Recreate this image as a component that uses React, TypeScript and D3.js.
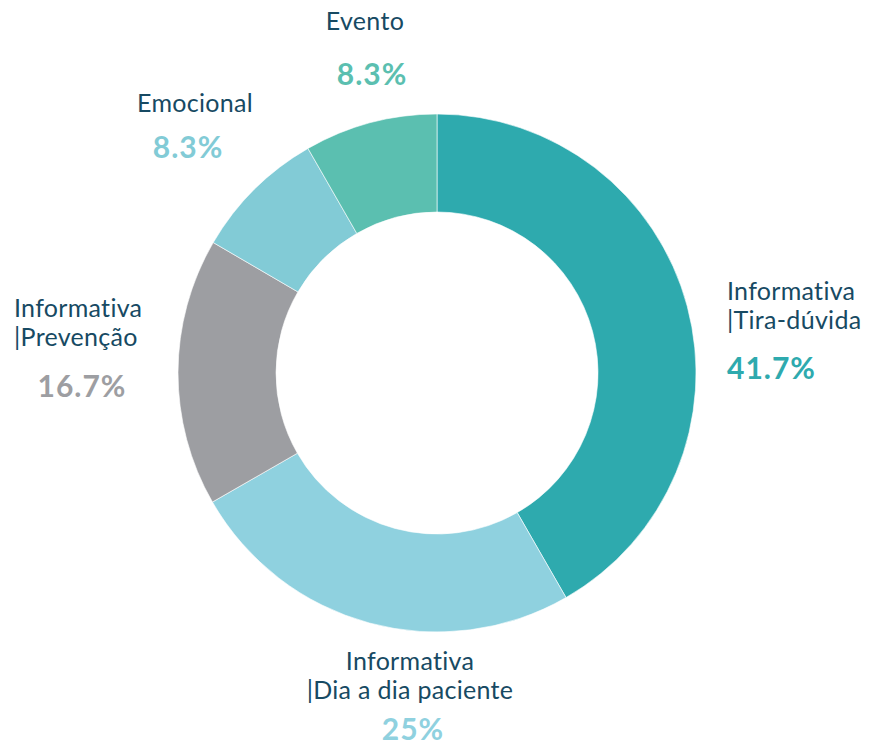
import React from "react";
import * as d3 from "d3";

// Slice data, clockwise from 12 o'clock
const categories = ["Tira-dúvida", "Dia a dia paciente", "Prevenção", "Emocional", "Evento"];
const values = [41.7, 25, 16.7, 8.3, 8.3];
const percentLabels = ["41.7%", "25%", "16.7%", "8.3%", "8.3%"];
const labelLines = [
  ["Informativa", "|Tira-dúvida"],
  ["Informativa", "|Dia a dia paciente"],
  ["Informativa", "|Prevenção"],
  ["Emocional"],
  ["Evento"],
];
const colors = ["#2eaaae", "#8fd1df", "#9d9ea2", "#82cbd6", "#5bbfb0"];

const width = 879;
const height = 745;
const cx = 437;
const cy = 373;
const outerR = 259;
const innerR = 161;

// label placement (layout only)
const labelPos = [
  { x: 727, y: 300, anchor: "start", pctY: 379 },
  { x: 410, y: 670, anchor: "middle", pctY: 740, pctX: 413 },
  { x: 14, y: 317, anchor: "start", pctY: 397, pctX: 82, pctAnchor: "middle" },
  { x: 195, y: 112, anchor: "middle", pctY: 158, pctX: 188 },
  { x: 365, y: 30, anchor: "middle", pctY: 85, pctX: 372 },
];

const App = () => {
  const pie = d3.pie<number>().sort(null).value((d) => d);
  const arcs = pie(values);
  const arc = d3.arc<d3.PieArcDatum<number>>().innerRadius(innerR).outerRadius(outerR);
  const textColor = "#174a63";
  const font = "Lato, 'Open Sans', sans-serif";

  return (
    <svg
      width={width}
      height={height}
      style={{ position: "absolute", left: 0, top: 0, background: "#fff" }}
      fontFamily={font}
    >
      <g transform={`translate(${cx},${cy})`}>
        {arcs.map((a, i) => (
          <path key={categories[i]} d={arc(a) || ""} fill={colors[i]} stroke="#fff" strokeWidth={0.6} />
        ))}
      </g>
      {labelPos.map((p, i) => (
        <g key={categories[i]}>
          <text x={p.x} y={p.y} textAnchor={p.anchor} fill={textColor} fontSize={25} letterSpacing={0.3}>
            {labelLines[i].map((l, j) => (
              <tspan key={j} x={p.x} dy={j === 0 ? 0 : 29}>
                {l}
              </tspan>
            ))}
          </text>
          <text
            x={p.pctX ?? p.x}
            y={p.pctY}
            textAnchor={p.pctAnchor ?? p.anchor}
            fill={colors[i]}
            fontSize={30}
            fontWeight={700}
            letterSpacing={1}
          >
            {percentLabels[i]}
          </text>
        </g>
      ))}
    </svg>
  );
};

export default App;
